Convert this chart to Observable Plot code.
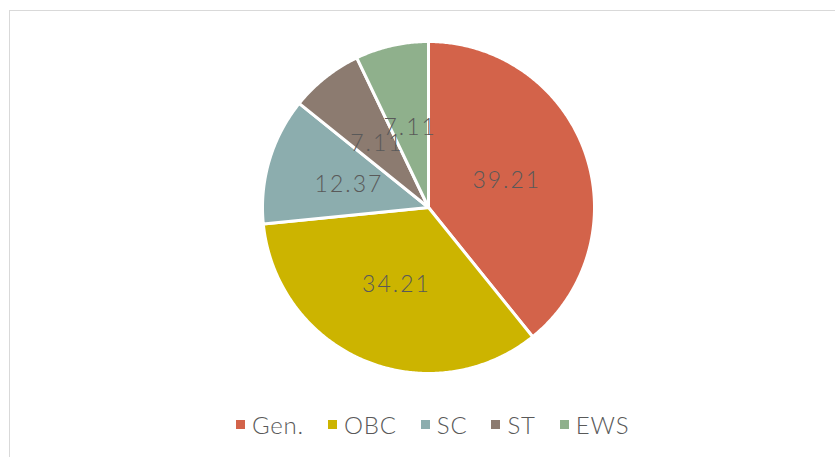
<!DOCTYPE html>
<html>
<head>
<meta charset="utf-8">
<script src="https://cdn.jsdelivr.net/npm/d3@7"></script>
<script src="https://cdn.jsdelivr.net/npm/@observablehq/plot@0.6"></script>
<style>
  html, body { margin: 0; padding: 0; background: #fff; }
  body { width: 835px; height: 457px; overflow: hidden; position: relative; font-family: "Lato", "Open Sans", sans-serif; }
  #frame { position: absolute; left: 9px; top: 10px; width: 900px; height: 520px; border: 1.5px solid #d9d9d9; box-sizing: border-box; pointer-events: none; }
  #chart { position: absolute; left: 0; top: 0; }
  #chart svg text { letter-spacing: 2px; }
  #legend { position: absolute; left: 236px; top: 408px; width: 600px; }
  #legend div, #legend span { font-size: 24px !important; font-family: "Lato", "Open Sans", sans-serif !important; color: #595959; font-weight: 300; margin-left: 0 !important; }
  .lg-swatch { margin-right: 24px !important; letter-spacing: 0.8px; }
  .lg-swatch svg { margin-right: 7px !important; }
</style>
</head>
<body>
<div id="chart"></div>
<div id="legend"></div>
<div id="frame"></div>
<script>
const categories = ["Gen.", "OBC", "SC", "ST", "EWS"];
const values = [39.21, 34.21, 12.37, 7.11, 7.11];
const colors = ["#D3634A", "#CCB400", "#8CADAE", "#8C7B70", "#8FB08C"];

const total = d3.sum(values);
const slices = [];
let cum = 0;
categories.forEach((c, i) => {
  const a0 = cum / total * 2 * Math.PI;
  cum += values[i];
  const a1 = cum / total * 2 * Math.PI;
  slices.push({category: c, value: values[i], a0, a1});
});

const poly = [];
for (const s of slices) {
  poly.push({category: s.category, x: 0, y: 0});
  const n = Math.max(2, Math.ceil((s.a1 - s.a0) / (Math.PI / 360)));
  for (let k = 0; k <= n; k++) {
    const a = s.a0 + (s.a1 - s.a0) * k / n;
    poly.push({category: s.category, x: Math.sin(a), y: Math.cos(a)});
  }
  poly.push({category: s.category, x: 0, y: 0});
}
const labels = slices.map(s => {
  const m = (s.a0 + s.a1) / 2;
  return {category: s.category, text: s.value.toFixed(2), x: 0.5 * Math.sin(m), y: 0.5 * Math.cos(m)};
});

const chart = Plot.plot({
  width: 835,
  height: 400,
  marginLeft: 262,
  marginRight: 241,
  marginTop: 41,
  marginBottom: 27,
  x: {domain: [-1, 1], axis: null},
  y: {domain: [-1, 1], axis: null},
  color: {domain: categories, range: colors},
  style: {background: "transparent", fontFamily: "Lato, 'Open Sans', sans-serif"},
  marks: [
    Plot.line(poly, {x: "x", y: "y", z: "category", fill: "category", stroke: "white", strokeWidth: 3, strokeLinejoin: "round"}),
    Plot.text(labels, {x: "x", y: "y", dy: 1, text: "text", fill: "#595959", fontSize: 23, fontWeight: 300})
  ]
});
document.getElementById("chart").appendChild(chart);

const legend = Plot.legend({
  color: {domain: categories, range: colors},
  legend: "swatches",
  swatchSize: 9,
  className: "lg",
  style: {fontSize: "24px", color: "#595959", fontWeight: 300, fontFamily: "Lato, 'Open Sans', sans-serif"}
});
document.getElementById("legend").appendChild(legend);
</script>
</body>
</html>
